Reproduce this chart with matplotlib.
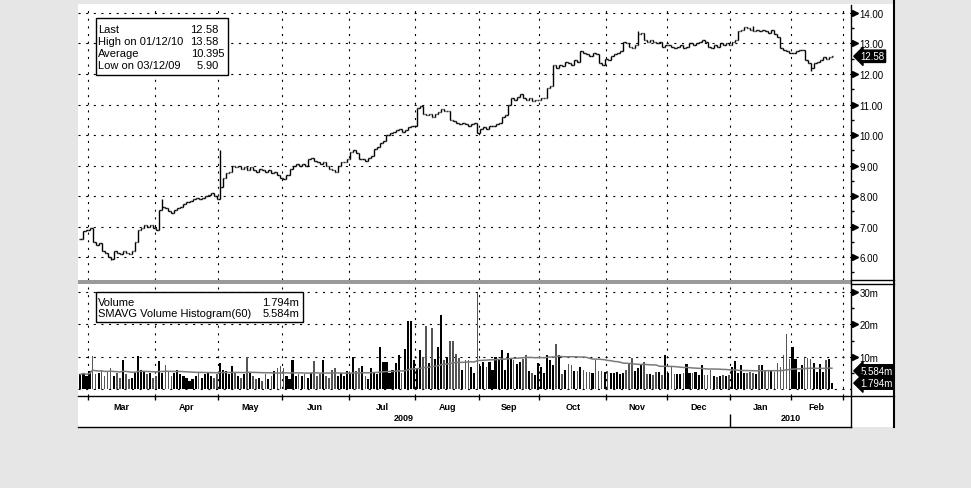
import numpy as np
import pandas as pd
import matplotlib
matplotlib.use('Agg')
import matplotlib.pyplot as plt
from matplotlib.collections import LineCollection
from matplotlib.patches import Rectangle
from matplotlib.lines import Line2D
from matplotlib.transforms import blended_transform_factory

plt.rcParams['font.family'] = ['Liberation Sans', 'DejaVu Sans']
plt.rcParams['lines.scale_dashes'] = False

# daily closes, 25 Feb 2009 .. 19 Feb 2010 (one per trading day)
closes = [
    6.60, 6.85, 6.90, 6.95, 6.50, 6.40, 6.45, 6.20, 6.15, 6.00,
    5.95, 6.20, 6.15, 6.10, 6.20, 6.15, 6.10, 6.20, 6.50, 6.90,
    6.95, 7.05, 7.00, 7.05, 6.95, 6.90, 7.55, 7.65, 7.60, 7.50,
    7.45, 7.55, 7.60, 7.65, 7.75, 7.80, 7.85, 7.90, 7.95, 7.90,
    7.95, 8.00, 8.05, 8.10, 8.00, 7.90, 8.30, 8.60, 8.75, 8.80,
    9.00, 8.95, 9.00, 8.90, 8.95, 8.85, 8.95, 8.85, 8.80, 8.90,
    8.85, 8.80, 8.85, 8.75, 8.80, 8.70, 8.60, 8.55, 8.70, 8.90,
    9.00, 9.05, 9.00, 9.05, 9.00, 9.20, 9.25, 9.15, 9.10, 9.05,
    9.10, 9.00, 8.90, 8.85, 8.80, 9.00, 9.10, 9.10, 9.20, 9.45,
    9.50, 9.40, 9.20, 9.20, 9.15, 9.25, 9.30, 9.55, 9.60, 9.75,
    9.80, 10.00, 10.05, 10.10, 10.15, 10.20, 10.10, 10.15, 10.25, 10.30,
    10.30, 10.90, 10.95, 10.70, 10.65, 10.70, 10.60, 10.70, 10.75, 10.85,
    10.80, 10.80, 10.50, 10.45, 10.40, 10.35, 10.40, 10.35, 10.30, 10.35,
    10.40, 10.05, 10.20, 10.25, 10.20, 10.30, 10.30, 10.35, 10.40, 10.60,
    10.65, 11.00, 11.20, 11.15, 11.25, 11.35, 11.20, 11.15, 11.20, 11.10,
    11.15, 11.15, 11.20, 11.20, 11.55, 11.60, 12.30, 12.20, 12.30, 12.25,
    12.40, 12.35, 12.30, 12.45, 12.40, 12.75, 12.70, 12.65, 12.60, 12.70,
    12.65, 12.35, 12.30, 12.50, 12.45, 12.60, 12.65, 12.70, 12.75, 13.05,
    13.00, 12.90, 12.85, 12.95, 13.30, 13.35, 13.10, 13.05, 13.10, 13.05,
    13.00, 13.05, 12.90, 12.95, 12.95, 12.90, 12.85, 12.90, 12.95, 12.85,
    12.90, 13.00, 12.95, 13.00, 13.05, 13.10, 13.05, 12.90, 12.85, 12.95,
    12.90, 13.00, 12.95, 13.00, 12.95, 13.05, 13.10, 13.40, 13.45, 13.55,
    13.50, 13.45, 13.40, 13.45, 13.40, 13.45, 13.40, 13.35, 13.45, 13.30,
    13.20, 12.85, 12.80, 12.75, 12.70, 12.70, 12.75, 12.80, 12.80, 12.45,
    12.35, 12.20, 12.35, 12.40, 12.45, 12.55, 12.50, 12.55, 12.58,
]

# intraday extremes that stick out of the open/close range
extra_idx = [10, 27, 46, 184, 222, 241]
extra_high = [6.00, 7.90, 9.52, 13.42, 13.58, 12.35]
extra_low = [5.90, 7.60, 7.90, 13.00, 13.40, 12.10]

# daily volume in millions
volumes = [
    4.5, 5.0, 4.0, 5.5, 10.2, 4.5, 5.0, 6.0, 4.0, 5.5,
    6.5, 4.0, 5.0, 3.5, 9.0, 4.5, 3.0, 3.5, 5.0, 10.3,
    6.0, 5.5, 4.5, 5.0, 3.5, 4.0, 8.8, 5.0, 7.5, 5.5,
    4.0, 5.0, 6.0, 4.5, 4.0, 3.5, 2.5, 3.0, 4.0, 5.0,
    3.5, 4.5, 5.0, 4.0, 3.5, 4.5, 8.0, 6.0, 5.5, 4.5,
    7.0, 5.0, 4.0, 3.5, 4.5, 10.0, 5.0, 4.0, 3.0, 3.5,
    2.5, 4.5, 3.0, 4.0, 5.5, 6.5, 7.0, 6.5, 4.0, 3.0,
    9.0, 4.0, 4.5, 4.0, 4.5, 3.5, 5.0, 8.5, 4.0, 4.5,
    9.0, 4.0, 3.5, 6.0, 6.5, 4.0, 5.0, 4.0, 5.5, 5.0,
    10.0, 5.5, 6.5, 7.0, 4.0, 3.0, 6.5, 5.0, 4.5, 13.0,
    8.4, 8.4, 5.0, 6.0, 8.0, 10.5, 5.0, 12.5, 21.0, 21.0,
    9.0, 6.5, 12.0, 10.0, 19.4, 8.0, 19.0, 9.4, 13.0, 23.0,
    9.0, 10.0, 15.0, 15.0, 10.8, 9.7, 6.0, 9.0, 9.0, 6.7,
    5.0, 29.7, 7.0, 8.4, 6.7, 8.4, 6.0, 10.0, 9.4, 12.0,
    6.0, 11.0, 9.4, 9.0, 7.7, 8.4, 9.4, 10.4, 5.4, 5.0,
    4.4, 8.0, 6.7, 5.0, 10.4, 9.0, 7.3, 14.0, 10.4, 4.7,
    6.0, 7.7, 7.3, 5.7, 5.7, 6.7, 6.0, 5.3, 5.3, 5.0,
    9.0, 5.7, 5.5, 5.3, 5.6, 5.0, 4.8, 5.2, 4.6, 5.0,
    6.0, 7.7, 9.7, 5.7, 6.5, 7.4, 8.4, 4.5, 4.6, 4.4,
    5.3, 5.3, 4.4, 10.4, 4.8, 6.7, 4.6, 4.5, 4.6, 4.8,
    7.8, 5.0, 4.8, 5.2, 4.4, 7.3, 4.4, 4.2, 6.0, 4.0,
    3.8, 4.0, 4.2, 4.0, 4.2, 6.7, 8.7, 5.0, 7.3, 5.0,
    4.8, 5.2, 5.0, 4.6, 7.3, 7.3, 5.5, 6.0, 5.5, 5.3,
    8.0, 6.8, 10.4, 17.0, 9.4, 13.0, 9.4, 5.3, 7.3, 9.7,
    9.7, 9.4, 8.0, 5.3, 7.7, 5.3, 9.0, 9.4, 1.794,
]

# month boundaries on the trading-day axis
month_starts = [2.5, 24.5, 45.5, 66.5, 88.5, 110.5, 131.5, 151.5,
                173.5, 193.5, 214.5, 234.5, 251.5]
month_names = ['Mar', 'Apr', 'May', 'Jun', 'Jul', 'Aug', 'Sep', 'Oct',
               'Nov', 'Dec', 'Jan', 'Feb']
year_names = ['2009', '2010']
year_bounds = [-0.8, 214.5, 254.3]

price_ticks = [6, 7, 8, 9, 10, 11, 12, 13, 14]
vol_ticks = [10, 20, 30]

price_legend = [('Last', '12.58'), ('High on 01/12/10', '13.58'),
                ('Average', '10.395'), ('Low on 03/12/09', '5.90')]
vol_legend = [('Volume', '1.794m'), ('SMAVG Volume Histogram(60)', '5.584m')]
last_price = 12.58
last_vol = 1.794
sma_last = 5.584

W, H = 971, 489
XLIM = (-0.8, 254.3)
DOTS = (0, (1.5, 4))


def rect(x0, y0, x1, y1):
    return [x0 / W, 1 - y1 / H, (x1 - x0) / W, (y1 - y0) / H]


def fx(x):
    return x / W


def fy(y):
    return 1 - y / H


def fig_line(x0, y0, x1, y1, color='black', lw=1.0):
    fig.add_artist(Line2D([fx(x0), fx(x1)], [fy(y0), fy(y1)], color=color,
                          lw=lw, transform=fig.transFigure, zorder=20))


fig = plt.figure(figsize=(W / 100, H / 100), dpi=100, facecolor='#e6e6e6')
fig.add_artist(Rectangle((fx(78), fy(428)), fx(894) - fx(78), fy(5) - fy(428),
                         transform=fig.transFigure, fc='white', ec='none', zorder=-10))

n = len(closes)
x = np.arange(n)
c = np.array(closes)
o = np.r_[c[0], c[:-1]]
hi = np.maximum(o, c)
lo = np.minimum(o, c)
for i, h, l in zip(extra_idx, extra_high, extra_low):
    hi[i] = max(hi[i], h)
    lo[i] = min(lo[i], l)

# ---- price panel
ax_p = fig.add_axes(rect(78, 6, 851, 281))
segs = []
for i in range(n):
    segs.append([(i, lo[i]), (i, hi[i])])
    segs.append([(i - 0.45, o[i]), (i, o[i])])
    segs.append([(i, c[i]), (i + 0.45, c[i])])
ax_p.add_collection(LineCollection(segs, colors='black', linewidths=1.0, zorder=3))
ax_p.set_xlim(*XLIM)
ax_p.set_ylim(5.25, 14.26)
ax_p.set_xticks(month_starts)
ax_p.set_yticks(price_ticks)
ax_p.set_yticks(np.arange(5.5, 14.5, 1.0), minor=True)
ax_p.set_yticklabels(['%.2f' % t for t in price_ticks])
ax_p.yaxis.tick_right()
ax_p.tick_params(axis='x', length=0, labelbottom=False)
ax_p.tick_params(axis='y', which='major', length=0, pad=6, labelsize=7)
ax_p.tick_params(axis='y', which='minor', length=2, width=1)
ax_p.grid(True, color='black', lw=0.8, ls=DOTS)
ax_p.set_axisbelow(True)
for s in ax_p.spines.values():
    s.set_visible(False)
tr = blended_transform_factory(ax_p.transAxes, ax_p.transData)
ax_p.plot([1.005] * len(price_ticks), price_ticks, ls='none', marker='>', ms=4,
          color='black', transform=tr, clip_on=False)
ax_p.text(1.012, last_price, '%.2f' % last_price, transform=tr, color='white',
          fontsize=7, va='center', ha='left',
          bbox=dict(boxstyle='larrow,pad=0.12', fc='black', ec='black'))

# ---- volume panel
ax_v = fig.add_axes(rect(78, 286, 851, 397))
up = np.r_[True, c[1:] >= c[:-1]]
v = np.array(volumes)
ax_v.bar(x[up], v[up], width=0.7, color='black', zorder=3)
ax_v.bar(x[~up], v[~up], width=0.5, color='#555555', zorder=3)
sma = pd.Series(volumes).rolling(60, min_periods=1).mean()
ax_v.plot(x, sma, color='#7a7a7a', lw=1.1, zorder=4)
ax_v.set_xlim(*XLIM)
ax_v.set_ylim(-2.2, 32.2)
ax_v.set_xticks(month_starts)
ax_v.set_yticks(vol_ticks)
ax_v.set_yticks([5, 15, 25], minor=True)
ax_v.set_yticklabels(['%dm' % t for t in vol_ticks])
ax_v.yaxis.tick_right()
ax_v.tick_params(axis='x', length=0, labelbottom=False)
ax_v.tick_params(axis='y', which='major', length=0, pad=6, labelsize=7)
ax_v.tick_params(axis='y', which='minor', length=2, width=1)
ax_v.grid(True, color='black', lw=0.8, ls=DOTS)
ax_v.axhline(0, color='black', lw=0.8, ls=DOTS, zorder=1)
ax_v.set_axisbelow(True)
for s in ax_v.spines.values():
    s.set_visible(False)
trv = blended_transform_factory(ax_v.transAxes, ax_v.transData)
ax_v.plot([1.005] * len(vol_ticks), vol_ticks, ls='none', marker='>', ms=4,
          color='black', transform=trv, clip_on=False)
for val in [sma_last, last_vol]:
    ax_v.text(1.012, val, '%.3fm' % val, transform=trv, color='white',
              fontsize=7, va='center', ha='left',
              bbox=dict(boxstyle='larrow,pad=0.12', fc='black', ec='black'))

# ---- date axis
ax_d = fig.add_axes(rect(78, 397, 851, 428))
ax_d.set_xlim(*XLIM)
ax_d.set_ylim(0, 1)
ax_d.axis('off')
ax_d.vlines(month_starts, 0.87, 1.0, color='black', lw=1)
for a, b, name in zip(month_starts[:-1], month_starts[1:], month_names):
    ax_d.text((a + b) / 2, 0.67, name, ha='center', va='center', fontsize=6.5,
              fontweight='bold')
for k, name in enumerate(year_names):
    ax_d.text((year_bounds[k] + year_bounds[k + 1]) / 2, 0.3, name, ha='center',
              va='center', fontsize=6.5, fontweight='bold')
ax_d.vlines([year_bounds[1]], 0, 0.42, color='black', lw=1)

# ---- frame lines
fig.add_artist(Rectangle((fx(78), fy(285)), fx(851) - fx(78), fy(281) - fy(285),
                         transform=fig.transFigure, fc='#9a9a9a', ec='none', zorder=20))
fig_line(851, 6, 851, 428)
fig_line(894, 0, 894, 428, lw=1.5)
fig_line(851, 281, 894, 281)
fig_line(851, 285, 894, 285)
fig_line(78, 397, 894, 397)
fig_line(78, 428, 851, 428)

# ---- legend boxes
fig.add_artist(Rectangle((fx(96), fy(76)), fx(228) - fx(96), fy(19) - fy(76),
                         transform=fig.transFigure, fc='white', ec='black', lw=1, zorder=21))
for k, (lab, val) in enumerate(price_legend):
    yy = fy(30 + 12 * k)
    fig.text(fx(98), yy, lab, fontsize=8, va='center', ha='left', zorder=22)
    whole, frac = val.split('.')
    fig.text(fx(203), yy, whole, fontsize=8, va='center', ha='right', zorder=22)
    fig.text(fx(203), yy, '.' + frac, fontsize=8, va='center', ha='left', zorder=22)

fig.add_artist(Rectangle((fx(96), fy(323)), fx(303) - fx(96), fy(293) - fy(323),
                         transform=fig.transFigure, fc='white', ec='black', lw=1, zorder=21))
for k, (lab, val) in enumerate(vol_legend):
    yy = fy(303 + 11 * k)
    fig.text(fx(98), yy, lab, fontsize=8, va='center', ha='left', zorder=22)
    fig.text(fx(299), yy, val, fontsize=8, va='center', ha='right', zorder=22)

fig.savefig('out.png', dpi=100, facecolor=fig.get_facecolor())
